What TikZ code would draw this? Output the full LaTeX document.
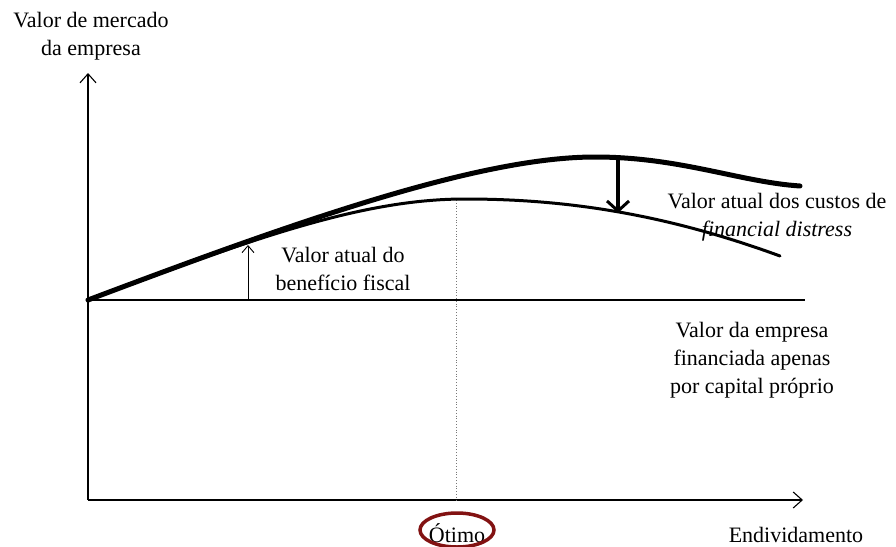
\documentclass[tikz,border=0pt]{standalone}
\usepackage{fontspec}
\setmainfont{Liberation Serif}
\newfontfamily\timesfont{Liberation Serif}
\usetikzlibrary{arrows.meta}
\definecolor{ovalred}{RGB}{130,18,18}
\definecolor{dotgray}{RGB}{120,120,120}
\begin{document}
\begin{tikzpicture}[x=1pt,y=-1pt,
  lbl/.style={font=\timesfont\fontsize{22}{28}\selectfont, inner sep=0pt, align=center},
  axisline/.style={line width=1.1pt, -{Straight Barb[length=9pt,width=16pt,line width=1.1pt]}},
  thinline/.style={line width=1.1pt},
  firmv/.style={line width=5pt, line cap=round},
  netv/.style={line width=3pt, line cap=round},
  smallarrow/.style={line width=0.9pt, -{Straight Barb[length=7pt,width=12pt,line width=0.9pt]}},
  bigarrow/.style={line width=3.5pt, -{Straight Barb[length=10pt,width=22pt,line width=3pt]}},
  optline/.style={dotgray, line width=0.8pt, dotted}
]
\useasboundingbox (0,0) rectangle (896,546);

% coordinates
\coordinate (O) at (88,300);
\coordinate (Y0) at (88,500);
\coordinate (Ytop) at (88,73);
\coordinate (Xend) at (803,500);
\coordinate (Bend) at (805,300);
\coordinate (OptTop) at (456,200);
\coordinate (OptBot) at (456,500);
\coordinate (TaxBot) at (248,300);
\coordinate (TaxTop) at (248,245);
\coordinate (CostTop) at (618,157);
\coordinate (CostBot) at (618,213);

% axes
\draw[axisline] (Y0) -- (Ytop);
\draw[axisline] (Y0) -- (Xend);
\draw[thinline] (O) -- (Bend);

% optimum dotted line
\draw[optline] (OptTop) -- (OptBot);

% curves
\draw[netv] (O) .. controls (250,240) and (360,199) .. (465,199)
               .. controls (560,199) and (660,212) .. (780,256);
\draw[firmv] (O) .. controls (300,220) and (480,157) .. (595,157)
               .. controls (680,157) and (740,182) .. (800,186);

% arrows
\draw[smallarrow] (TaxBot) -- (TaxTop);
\draw[bigarrow] (CostTop) -- (CostBot);

% labels
\node[lbl, anchor=north] (ylab) at (91,12) {Valor de mercado\\da empresa};
\node[lbl, anchor=north] (taxlab) at (343,247) {Valor atual do\\benefício fiscal};
\node[lbl, anchor=north] (costlab) at (777,193) {Valor atual dos custos de\\\textit{financial distress}};
\node[lbl, anchor=north] (eqlab) at (752,322) {Valor da empresa\\financiada apenas\\por capital próprio};
\node[lbl, anchor=base] (opt) at (457,542) {Ótimo};
\node[lbl, anchor=base] (xlab) at (796,542) {Endividamento};

% oval around optimum
\draw[ovalred, line width=3.5pt] (457,530) ellipse [x radius=37, y radius=17];
\end{tikzpicture}
\end{document}
